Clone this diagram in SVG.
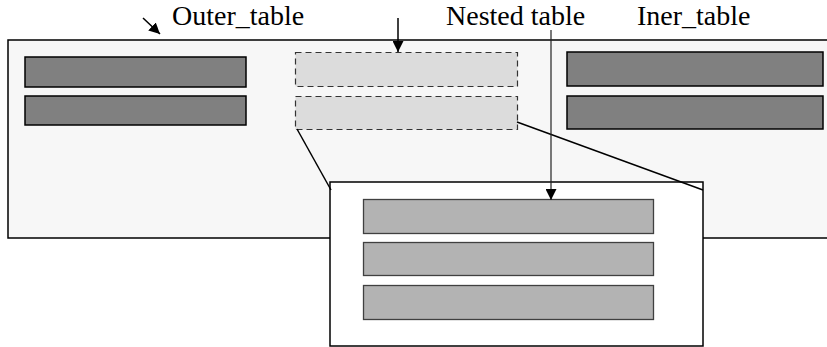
<svg xmlns="http://www.w3.org/2000/svg" width="827" height="347" viewBox="0 0 827 347">
  <style>
    .label { font-family: "Liberation Serif", "Times New Roman", serif; font-size: 28px; fill: #000; }
    .dark { fill: #808080; stroke: #000; stroke-width: 1.5; }
    .dashed { fill: #dcdcdc; stroke: #333; stroke-width: 1.2; stroke-dasharray: 6 4; }
    .nested { fill: #b3b3b3; stroke: #404040; stroke-width: 1.3; }
    .wire { stroke: #000; stroke-width: 1.5; fill: none; }
    .pointer { stroke: #222; stroke-width: 1.2; fill: none; }
  </style>
  <defs>
    <marker id="head" viewBox="0 0 10 10" refX="10" refY="5" markerWidth="11" markerHeight="11" markerUnits="userSpaceOnUse" orient="auto">
      <path d="M0,0 L10,5 L0,10 z" fill="#000"/>
    </marker>
  </defs>

  <rect width="827" height="347" fill="#fff"/>

  <!-- outer table -->
  <g id="outer_table">
    <rect x="8" y="40" width="830" height="198" fill="#f7f7f7" stroke="#000" stroke-width="1.5"/>
    <rect class="dark" x="25" y="57" width="221" height="30"/>
    <rect class="dark" x="25" y="96" width="221" height="29"/>
  </g>

  <!-- cell holding the nested table -->
  <g id="nested_cell">
    <rect class="dashed" x="295.5" y="52.5" width="222" height="34"/>
    <rect class="dashed" x="295.5" y="96.5" width="222" height="33"/>
  </g>

  <!-- inner table cells -->
  <g id="iner_table">
    <rect class="dark" x="567" y="52" width="256" height="34"/>
    <rect class="dark" x="567" y="96" width="256" height="33"/>
  </g>

  <!-- zoomed view of the nested table -->
  <g id="nested_table">
    <rect x="330" y="182" width="373" height="164" fill="#fff" stroke="#000" stroke-width="1.5"/>
    <rect class="nested" x="363.5" y="199.5" width="290" height="34"/>
    <rect class="nested" x="363.5" y="242.5" width="290" height="33"/>
    <rect class="nested" x="363.5" y="285.5" width="290" height="34"/>
  </g>

  <!-- connectors -->
  <g id="connectors">
    <line class="wire" x1="297" y1="129" x2="331" y2="190"/>
    <line class="wire" x1="517" y1="122" x2="703" y2="190"/>
    <line class="wire" x1="143" y1="18" x2="160" y2="34" marker-end="url(#head)"/>
    <line class="wire" x1="398" y1="18" x2="398" y2="52" marker-end="url(#head)"/>
    <line class="pointer" x1="551" y1="30" x2="551" y2="200" marker-end="url(#head)"/>
  </g>

  <!-- labels -->
  <g id="labels">
    <text class="label" x="172" y="25">Outer_table</text>
    <text class="label" x="446" y="25">Nested table</text>
    <text class="label" x="637" y="25">Iner_table</text>
  </g>
</svg>
